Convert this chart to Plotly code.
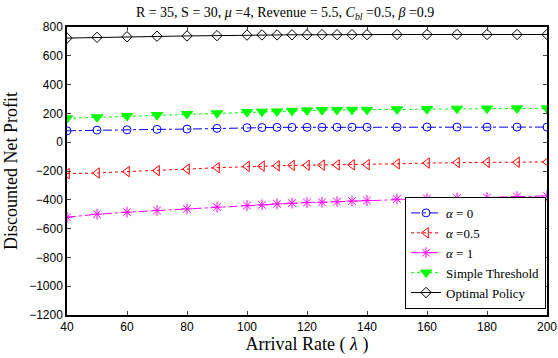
import plotly.graph_objects as go

arrival_rate = [40, 50, 60, 70, 80, 90, 100, 105, 110, 115, 120, 125, 130, 135, 140,
                150, 160, 170, 180, 190, 200]

alpha0 = [79, 84, 86, 89, 91, 96, 101, 102, 103, 103, 103, 103, 104, 104, 104,
          104, 105, 105, 105, 105, 105]
alpha05 = [-218, -214, -204, -197, -187, -177, -168, -166, -164, -161, -160, -159, -158, -157, -156,
           -150, -145, -141, -140, -139, -137]
alpha1 = [-521, -500, -486, -474, -463, -451, -440, -435, -428, -423, -419, -417, -413, -408, -405,
          -395, -392, -388, -384, -378, -373]
simple_threshold = [166, 173, 182, 189, 196, 201, 210, 212, 214, 218, 221, 223, 224, 225, 225,
                    228, 230, 233, 234, 235, 236]
optimal_policy = [723, 728, 732, 736, 738, 740, 744, 745, 745, 746, 746, 747, 747, 747, 747,
                  748, 748, 748, 748, 748, 748]

x_ticks = [40, 60, 80, 100, 120, 140, 160, 180, 200]
y_ticks = [-1200, -1000, -800, -600, -400, -200, 0, 200, 400, 600, 800]

series = [
    ("<i>α</i> = 0", alpha0, "#0000FF", "dashdot", "circle-open", 8),
    ("<i>α</i> =0.5", alpha05, "#FF0000", "dot", "triangle-left-open", 9),
    ("<i>α</i> = 1", alpha1, "#FF00FF", "dashdot", "asterisk-open", 9),
    ("Simple Threshold", simple_threshold, "#00FF00", "dot", "triangle-down", 10),
    ("Optimal Policy", optimal_policy, "#000000", "solid", "diamond-open", 8),
]

fig = go.Figure()
for name, vals, color, dash, sym, size in series:
    fig.add_trace(go.Scatter(
        x=arrival_rate, y=vals, name=name, mode="lines+markers",
        line=dict(color=color, width=1, dash=dash),
        marker=dict(symbol=sym, size=size, color=color, line=dict(color=color, width=1)),
    ))

serif = "Liberation Serif"
sans = "Liberation Sans"

fig.update_layout(
    width=558, height=358,
    margin=dict(l=67, r=11, t=27, b=43, autoexpand=False),
    paper_bgcolor="white", plot_bgcolor="white",
    title=dict(text="R = 35, S = 30, <i>μ</i> =4, Revenue = 5.5, <i>C<sub>bl</sub></i> =0.5, <i>β</i> =0.9",
               x=0.511, xanchor="center", y=0.966, yanchor="middle",
               font=dict(family=serif, size=14, color="black")),
    xaxis=dict(range=[40, 200], tickvals=x_ticks, ticks="inside", ticklen=4,
               showline=True, linecolor="black", linewidth=1.5, mirror="ticks",
               showgrid=False, zeroline=False, automargin=False,
               tickfont=dict(family=sans, size=12, color="black"),
               title=dict(text="Arrival Rate ( <i>λ</i> )", standoff=1,
                          font=dict(family=serif, size=18, color="black"))),
    yaxis=dict(range=[-1200, 800], tickvals=y_ticks, ticks="inside", ticklen=4,
               showline=True, linecolor="black", linewidth=1.5, mirror="ticks",
               showgrid=False, zeroline=False, automargin=False,
               tickfont=dict(family=sans, size=12, color="black"),
               title=dict(text="Discounted Net Profit", standoff=7,
                          font=dict(family=serif, size=18, color="black"))),
    legend=dict(x=0.998, y=0.021, xanchor="right", yanchor="bottom",
                bgcolor="white", bordercolor="black", borderwidth=1,
                font=dict(family=serif, size=13, color="black"),
                tracegroupgap=0, itemwidth=30),
    showlegend=True,
)

# remove the browser's default 8px body margin so the figure fills the window
fig.write_html("out.html", config={"displayModeBar": False},
               post_script="document.body.style.margin='0';")
